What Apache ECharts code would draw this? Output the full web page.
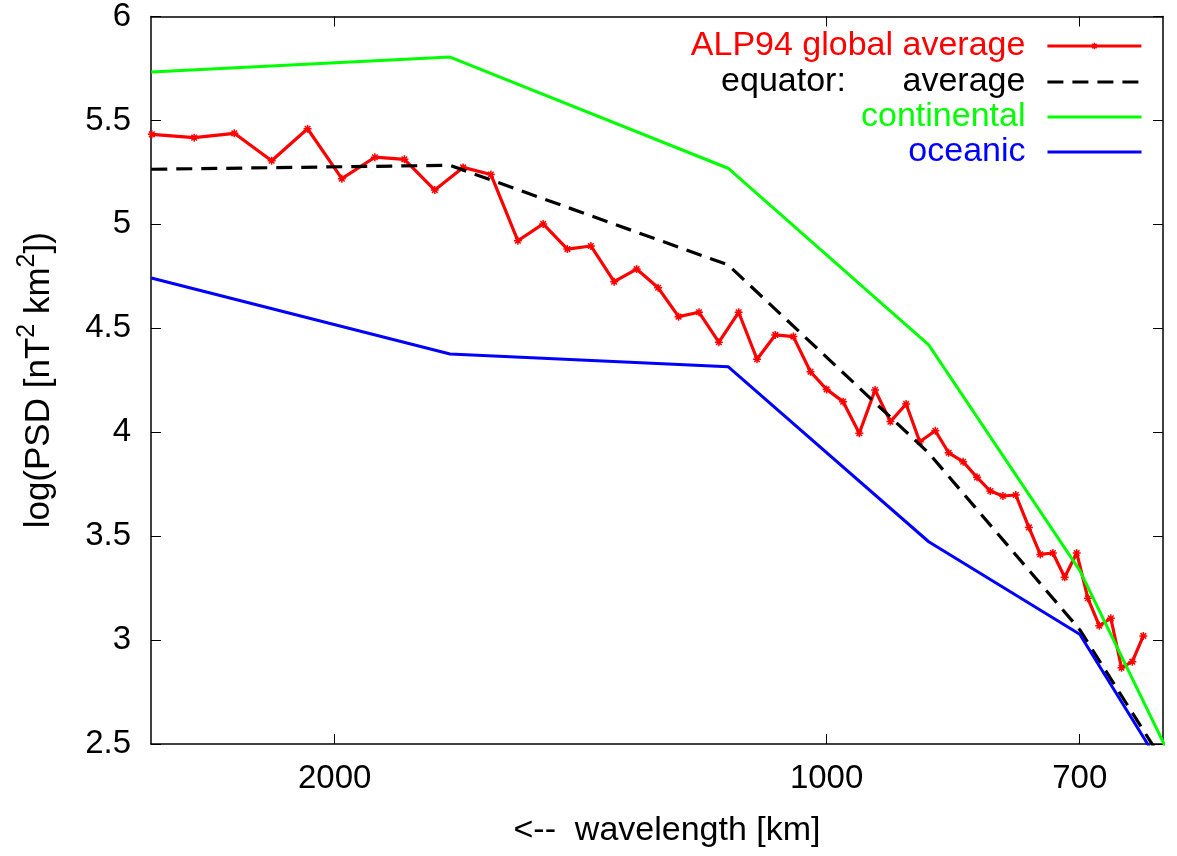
<!DOCTYPE html>
<html>
<head>
<meta charset="utf-8">
<script src="https://cdn.jsdelivr.net/npm/echarts@6/dist/echarts.min.js"></script>
<style>
html,body{margin:0;padding:0;background:#ffffff;}
#chart{width:1177px;height:856px;}
</style>
</head>
<body>
<div id="chart"></div>
<script>
// ---- data ----
const alpWavelength = [2588, 2438, 2304, 2186, 2078, 1980, 1890, 1813, 1737, 1669, 1605, 1545, 1491, 1441, 1394, 1349, 1307, 1268, 1232, 1197, 1164, 1132, 1103, 1075, 1048, 1023, 1000, 977, 955, 934, 914, 894, 877, 858, 842, 825, 809, 794, 780, 766, 752, 740, 727, 715, 703, 692, 681, 670, 660, 650, 640];
const alpLogPSD = [5.433, 5.417, 5.438, 5.306, 5.460, 5.220, 5.323, 5.313, 5.165, 5.274, 5.240, 4.921, 5.002, 4.881, 4.896, 4.724, 4.785, 4.695, 4.556, 4.577, 4.433, 4.577, 4.351, 4.468, 4.460, 4.291, 4.206, 4.147, 3.995, 4.203, 4.051, 4.136, 3.954, 4.007, 3.901, 3.858, 3.783, 3.717, 3.693, 3.698, 3.542, 3.412, 3.419, 3.302, 3.419, 3.201, 3.069, 3.105, 2.867, 2.896, 3.020];

const modelWavelength = [2590, 1700, 1149, 866, 700, 600];
const equatorAverage = [5.265, 5.284, 4.805, 3.900, 3.050, 2.218];
const continental    = [5.733, 5.805, 5.270, 4.420, 3.335, 2.252];
const oceanic        = [4.742, 4.376, 4.315, 3.473, 3.028, 2.177];

const seriesNames = ['ALP94 global average', 'equator:      average', 'continental', 'oceanic'];
const seriesColors = ['#ff0000', '#000000', '#00ff00', '#0000ff'];

const xTickLabels = [2000, 1000, 700];
const xRange = [622.5, 2591];      // wavelength range shown (km)
const yRange = [2.5, 6];
const yStep = 0.5;

// ---- chart ----
const FONT = '"Liberation Sans", Arial, Helvetica, sans-serif';
const toXY = (wl, vals) => wl.map((w, i) => [Math.log10(w), vals[i]]);
const xTickPos = xTickLabels.map(v => Math.log10(v));
const DASH = [16, 9];

function xAxisDef(pos, showLabel) {
  return {
    type: 'value', position: pos, inverse: true,
    min: Math.log10(xRange[0]), max: Math.log10(xRange[1]),
    axisLine: { show: true, onZero: false, lineStyle: { color: '#000', width: 1.5 } },
    axisTick: { show: true, inside: true, length: 10, customValues: xTickPos, lineStyle: { color: '#000', width: 1 } },
    axisLabel: {
      show: showLabel, customValues: xTickPos,
      formatter: v => String(Math.round(Math.pow(10, v))),
      fontSize: 33, fontFamily: FONT, color: '#000', margin: 18
    },
    splitLine: { show: false },
    name: showLabel ? '<--  wavelength [km]' : '',
    nameLocation: 'middle', nameGap: 70,
    nameTextStyle: { fontSize: 34, fontFamily: FONT, color: '#000', padding: [0, 0, 0, 20] }
  };
}
function yAxisDef(pos, showLabel) {
  return {
    type: 'value', position: pos,
    min: yRange[0], max: yRange[1], interval: yStep,
    axisLine: { show: true, onZero: false, lineStyle: { color: '#000', width: 1.5 } },
    axisTick: { show: true, inside: true, length: 10, lineStyle: { color: '#000', width: 1 } },
    axisLabel: { show: showLabel, fontSize: 33, fontFamily: FONT, color: '#000', margin: 20 },
    splitLine: { show: false },
    name: showLabel ? '{t|log(PSD [nT}{s|2}{t| km}{s|2}{t|])}' : '',
    nameLocation: 'middle', nameGap: 94,
    nameTextStyle: {
      fontSize: 34, fontFamily: FONT, color: '#000',
      rich: {
        t: { fontSize: 35, fontFamily: FONT, color: '#000', lineHeight: 42, verticalAlign: 'bottom' },
        s: { fontSize: 25, fontFamily: FONT, color: '#000', verticalAlign: 'top' }
      }
    }
  };
}

const lineWidths = [3.2, 3.2, 3, 3];
const legendTops = [29, 65, 100, 135];
const legends = seriesNames.map((n, i) => ({
  data: [n], right: 34, top: legendTops[i], orient: 'vertical', align: 'right',
  itemWidth: 94, itemHeight: i === 0 ? 8 : 4, padding: 0, itemGap: 0, selectedMode: false,
  itemStyle: i === 0 ? { color: seriesColors[0], borderColor: seriesColors[0], borderWidth: 1.5 }
                     : { color: 'rgba(0,0,0,0)', borderWidth: 0, opacity: 0 },
  lineStyle: { color: seriesColors[i], width: lineWidths[i], type: i === 1 ? DASH : 'solid' },
  textStyle: { color: seriesColors[i], fontSize: 34, fontFamily: FONT, padding: [0, 17, 0, 0] }
}));

const asterisk = 'path://M0,4L8,4M4,0L4,8M1.2,1.2L6.8,6.8M6.8,1.2L1.2,6.8';

const option = {
  animation: false,
  backgroundColor: '#ffffff',
  grid: { left: 151, right: 14, top: 16.5, bottom: 112, containLabel: false },
  legend: legends,
  xAxis: [xAxisDef('bottom', true), xAxisDef('top', false)],
  yAxis: [yAxisDef('left', true), yAxisDef('right', false)],
  series: [
    {
      name: seriesNames[0], type: 'line', data: toXY(alpWavelength, alpLogPSD),
      symbol: asterisk, symbolSize: 8,
      itemStyle: { color: seriesColors[0], borderColor: seriesColors[0], borderWidth: 1.5 },
      lineStyle: { color: seriesColors[0], width: lineWidths[0] }, z: 2
    },
    {
      name: seriesNames[1], type: 'line', data: toXY(modelWavelength, equatorAverage),
      symbol: 'none', lineStyle: { color: seriesColors[1], width: lineWidths[1], type: DASH },
      itemStyle: { color: seriesColors[1] }, z: 3
    },
    {
      name: seriesNames[2], type: 'line', data: toXY(modelWavelength, continental),
      symbol: 'none', lineStyle: { color: seriesColors[2], width: lineWidths[2] },
      itemStyle: { color: seriesColors[2] }, z: 4
    },
    {
      name: seriesNames[3], type: 'line', data: toXY(modelWavelength, oceanic),
      symbol: 'none', lineStyle: { color: seriesColors[3], width: lineWidths[3] },
      itemStyle: { color: seriesColors[3] }, z: 5
    }
  ]
};

const chart = echarts.init(document.getElementById('chart'), null, { renderer: 'canvas' });
chart.setOption(option);
</script>
</body>
</html>
